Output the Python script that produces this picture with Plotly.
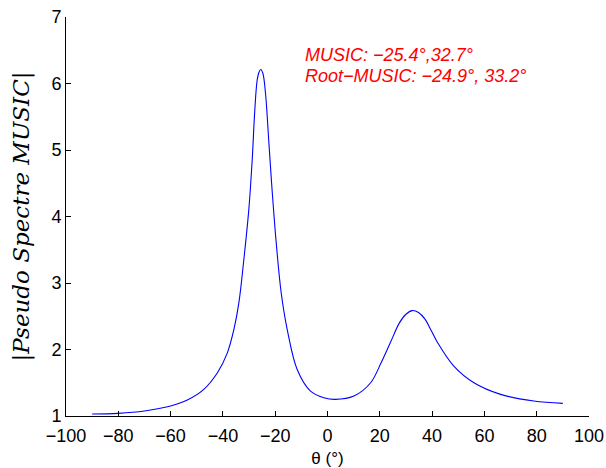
import plotly.graph_objects as go

theta = [-90, -80, -70, -60, -53.6, -47.3, -42.1, -38.3, -35.8, -33.9, -32.0, -30.1,
         -28.8, -27.8, -26.9, -26.2, -25.5, -24.7, -23.7, -22.4, -21.1, -19.6, -17.7,
         -15.4, -11.6, -6.5, -1.4, 3.0, 10.1, 16.5, 20.5, 24.0, 27.5, 30.0, 32.4,
         34.8, 37.2, 39.6, 42.0, 48.3, 56.0, 66.2, 78.9, 90]
spectrum = [1.03, 1.04, 1.075, 1.15, 1.24, 1.40, 1.65, 1.95, 2.30, 2.70, 3.35, 4.10,
            4.85, 5.60, 6.05, 6.17, 6.21, 6.15, 5.85, 5.10, 4.35, 3.60, 2.85,
            2.30, 1.70, 1.375, 1.275, 1.25, 1.30, 1.50, 1.80, 2.10, 2.40, 2.53, 2.585,
            2.555, 2.46, 2.29, 2.11, 1.75, 1.50, 1.325, 1.225, 1.19]
x_ticks = [-100, -80, -60, -40, -20, 0, 20, 40, 60, 80, 100]
y_ticks = [1, 2, 3, 4, 5, 6, 7]
annotation_lines = ["MUSIC: \u221225.4\u00b0,32.7\u00b0", "Root\u2212MUSIC: \u221224.9\u00b0, 33.2\u00b0"]

fig = go.Figure()
fig.add_trace(go.Scatter(x=theta, y=spectrum, mode="lines",
                         line=dict(color="#0000ff", width=1.1, shape="spline", smoothing=1.0),
                         showlegend=False, hoverinfo="skip"))

axis_common = dict(showgrid=False, zeroline=False, showline=True, linecolor="black",
                   linewidth=1, ticks="inside", ticklen=5, tickcolor="black",
                   tickfont=dict(family="Liberation Sans, Arial", size=18, color="black"),
                   mirror=False, automargin=False)

fig.update_xaxes(range=[-100, 100], tickvals=x_ticks,
                 ticktext=[str(v).replace("-", "\u2212") for v in x_ticks],
                 ticklabelstandoff=3,
                 title=dict(text="\u03b8 (\u00b0)", font=dict(family="Liberation Sans, Arial", size=17, color="black")),
                 **axis_common)
fig.update_yaxes(range=[1, 7], tickvals=y_ticks,
                 title=dict(text="<i>|Pseudo Spectre MUSIC|</i>",
                            font=dict(family="DejaVu Serif", size=23, color="black")),
                 **axis_common)

fig.add_annotation(x=-9.3, y=6.43, xref="x", yref="y", xanchor="left", yanchor="middle",
                   text="<i>" + annotation_lines[0] + "</i>", showarrow=False,
                   font=dict(family="Liberation Sans, Arial", size=18, color="red"))
fig.add_annotation(x=-9.3, y=6.12, xref="x", yref="y", xanchor="left", yanchor="middle",
                   text="<i>" + annotation_lines[1] + "</i>", showarrow=False,
                   font=dict(family="Liberation Sans, Arial", size=18, color="red"))

fig.update_layout(width=606, height=468, margin=dict(l=66, r=17, t=17, b=52),
                  plot_bgcolor="white", paper_bgcolor="white")

fig.write_html("out.html", config={"displayModeBar": False},
               post_script="document.body.style.margin='0';")
